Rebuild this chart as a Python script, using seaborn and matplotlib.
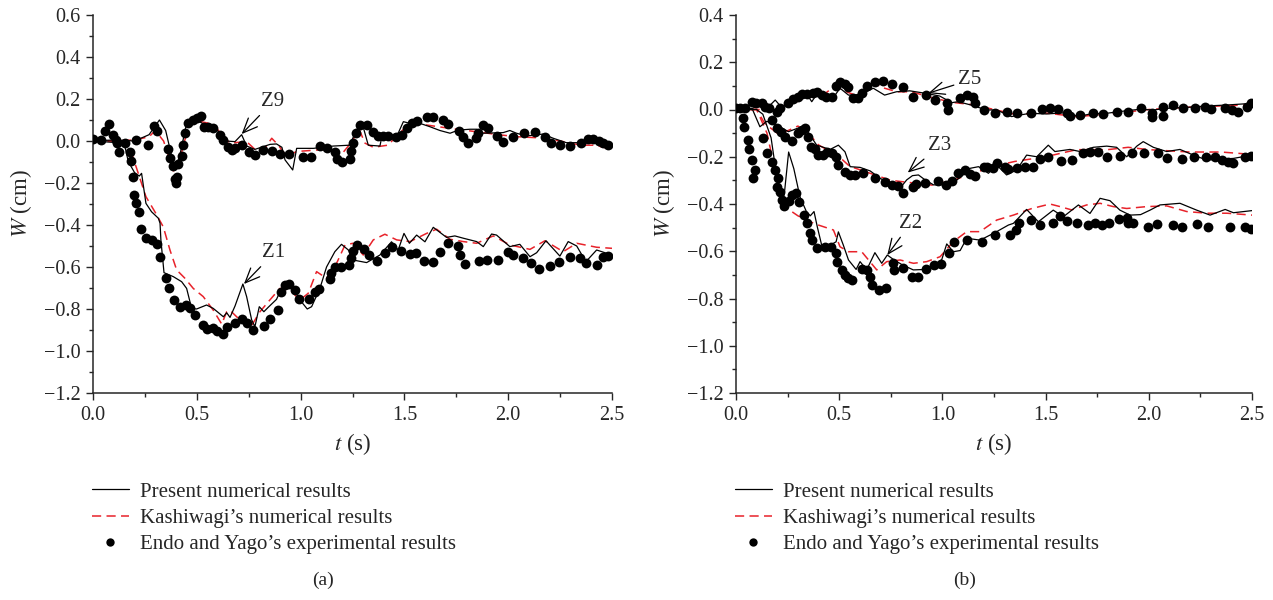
import pandas as pd
import matplotlib
matplotlib.use('Agg')
import matplotlib.pyplot as plt
from matplotlib.lines import Line2D
from matplotlib.ticker import MultipleLocator
import seaborn as sns

# ---- data, (t [s], W [cm]) ----
# panel (a)
z9_exp = [(0.0, 0.008), (0.04, 0.005), (0.058, 0.05), (0.079, 0.08), (0.098, 0.03), (0.11, 0.005),
          (0.117, -0.01), (0.127, -0.05), (0.154, -0.01), (0.207, 0.005), (0.266, -0.02), (0.295, 0.07),
          (0.307, 0.05), (0.363, -0.04), (0.37, -0.08), (0.387, -0.12), (0.395, -0.18), (0.40, -0.20),
          (0.406, -0.17), (0.41, -0.11), (0.427, -0.07), (0.432, -0.02), (0.443, 0.04), (0.459, 0.087),
          (0.483, 0.10), (0.50, 0.11), (0.518, 0.12), (0.534, 0.065), (0.555, 0.065), (0.579, 0.06),
          (0.611, 0.03), (0.628, 0.005), (0.652, -0.03), (0.668, -0.045), (0.684, -0.035), (0.716, -0.02),
          (0.753, -0.05), (0.78, -0.067), (0.82, -0.043), (0.86, -0.046), (0.90, -0.06), (0.945, -0.062),
          (1.01, -0.078), (1.048, -0.075), (1.093, -0.024), (1.125, -0.035), (1.166, -0.05), (1.174, -0.087),
          (1.20, -0.10), (1.238, -0.087), (1.245, -0.046), (1.254, -0.01), (1.267, 0.037), (1.286, 0.076),
          (1.318, 0.076), (1.347, 0.044), (1.374, 0.024), (1.398, 0.024), (1.422, 0.024), (1.46, 0.02),
          (1.487, 0.03), (1.514, 0.06), (1.535, 0.084), (1.562, 0.097), (1.607, 0.113), (1.639, 0.113),
          (1.687, 0.10), (1.712, 0.08), (1.764, 0.05), (1.784, 0.017), (1.805, -0.008), (1.845, 0.013),
          (1.856, 0.037), (1.877, 0.076), (1.904, 0.06), (1.944, 0.024), (1.976, -0.003), (2.021, 0.017),
          (2.077, 0.037), (2.127, 0.044), (2.177, 0.02), (2.204, -0.01), (2.249, -0.02), (2.297, -0.024),
          (2.353, -0.011), (2.386, 0.008), (2.41, 0.008), (2.439, 0.002), (2.458, -0.008), (2.482, -0.019)]
z9_present = [(0.0, 0.0), (0.1, 0.005), (0.2, 0.0), (0.27, 0.03), (0.32, 0.10), (0.35, 0.05),
              (0.395, -0.14), (0.42, -0.06), (0.45, 0.08), (0.50, 0.10), (0.55, 0.07), (0.60, 0.05),
              (0.64, 0.0), (0.684, -0.003), (0.716, 0.03), (0.74, -0.024), (0.78, -0.04), (0.81, -0.03),
              (0.853, -0.016), (0.884, -0.014), (0.91, -0.03), (0.925, -0.09), (0.962, -0.138),
              (0.981, -0.035), (1.062, -0.035), (1.158, -0.024), (1.235, -0.02), (1.278, 0.068),
              (1.302, 0.065), (1.326, -0.02), (1.382, -0.024), (1.39, 0.013), (1.47, 0.037), (1.495, 0.092),
              (1.527, 0.084), (1.575, 0.084), (1.623, 0.068), (1.671, 0.05), (1.72, 0.037), (1.76, 0.052),
              (1.816, 0.056), (1.848, 0.056), (1.88, 0.037), (1.976, 0.04), (2.008, 0.05), (2.04, 0.037),
              (2.088, 0.024), (2.168, 0.033), (2.217, 0.013), (2.28, -0.008), (2.36, -0.008),
              (2.425, -0.008), (2.5, -0.02)]
z9_kashiwagi = [(0.0, 0.0), (0.1, 0.0), (0.2, 0.005), (0.27, 0.02), (0.30, 0.05), (0.34, 0.0),
                (0.39, -0.15), (0.42, -0.08), (0.46, 0.07), (0.49, 0.10), (0.53, 0.09), (0.58, 0.08),
                (0.62, 0.03), (0.66, -0.01), (0.74, -0.003), (0.78, -0.04), (0.82, -0.045), (0.861, 0.013),
                (0.893, -0.02), (0.933, -0.075), (0.98, -0.05), (1.05, -0.045), (1.12, -0.04), (1.2, -0.06),
                (1.25, 0.0), (1.28, 0.06), (1.31, -0.01), (1.35, -0.03), (1.42, -0.02), (1.48, 0.04),
                (1.53, 0.09), (1.58, 0.08), (1.65, 0.07), (1.72, 0.06), (1.8, 0.05), (1.88, 0.04),
                (1.95, 0.03), (2.05, 0.02), (2.15, 0.015), (2.25, 0.0), (2.35, -0.02), (2.42, -0.02),
                (2.5, -0.04)]
z1_exp = [(0.178, -0.05), (0.183, -0.095), (0.194, -0.17), (0.197, -0.257), (0.207, -0.297), (0.222, -0.34),
          (0.23, -0.42), (0.255, -0.46), (0.284, -0.471), (0.31, -0.492), (0.323, -0.554), (0.352, -0.651),
          (0.364, -0.702), (0.39, -0.757), (0.419, -0.789), (0.448, -0.781), (0.467, -0.794), (0.491, -0.829),
          (0.528, -0.876), (0.547, -0.897), (0.576, -0.889), (0.596, -0.905), (0.628, -0.921), (0.644, -0.887),
          (0.684, -0.868), (0.716, -0.849), (0.74, -0.865), (0.769, -0.90), (0.823, -0.881), (0.852, -0.849),
          (0.892, -0.805), (0.904, -0.717), (0.925, -0.686), (0.945, -0.681), (0.973, -0.71), (0.994, -0.754),
          (1.042, -0.752), (1.069, -0.717), (1.09, -0.706), (1.141, -0.659), (1.145, -0.627), (1.166, -0.598),
          (1.193, -0.598), (1.235, -0.59), (1.242, -0.556), (1.25, -0.522), (1.27, -0.495), (1.305, -0.514),
          (1.331, -0.543), (1.366, -0.57), (1.406, -0.532), (1.439, -0.506), (1.482, -0.524), (1.527, -0.538),
          (1.556, -0.532), (1.594, -0.57), (1.636, -0.575), (1.671, -0.53), (1.711, -0.488), (1.756, -0.499),
          (1.768, -0.543), (1.792, -0.587), (1.859, -0.57), (1.896, -0.567), (1.952, -0.567), (1.997, -0.527),
          (2.025, -0.543), (2.069, -0.556), (2.108, -0.583), (2.15, -0.61), (2.201, -0.595), (2.246, -0.578),
          (2.297, -0.551), (2.345, -0.556), (2.373, -0.583), (2.43, -0.59), (2.458, -0.554), (2.482, -0.547)]
z1_present = [(0.0, 0.0), (0.15, -0.01), (0.17, -0.098), (0.20, -0.15), (0.223, -0.167), (0.234, -0.154),
              (0.255, -0.297), (0.282, -0.337), (0.315, -0.368), (0.323, -0.392), (0.327, -0.471),
              (0.342, -0.627), (0.387, -0.646), (0.427, -0.67), (0.451, -0.702), (0.475, -0.797),
              (0.499, -0.80), (0.547, -0.781), (0.579, -0.797), (0.628, -0.837), (0.644, -0.818),
              (0.66, -0.84), (0.684, -0.786), (0.722, -0.681), (0.74, -0.741), (0.764, -0.851),
              (0.78, -0.884), (0.801, -0.789), (0.823, -0.813), (0.844, -0.792), (0.884, -0.754),
              (0.908, -0.702), (0.94, -0.675), (0.965, -0.702), (0.997, -0.757), (1.032, -0.80),
              (1.053, -0.789), (1.093, -0.702), (1.125, -0.60), (1.165, -0.527), (1.197, -0.492),
              (1.23, -0.519), (1.254, -0.567), (1.318, -0.579), (1.382, -0.543), (1.438, -0.48),
              (1.47, -0.519), (1.498, -0.44), (1.524, -0.487), (1.559, -0.448), (1.599, -0.48),
              (1.639, -0.411), (1.703, -0.459), (1.743, -0.452), (1.784, -0.463), (1.848, -0.479),
              (1.88, -0.503), (1.92, -0.443), (1.944, -0.448), (2.008, -0.503), (2.056, -0.492),
              (2.105, -0.551), (2.137, -0.532), (2.182, -0.475), (2.249, -0.548), (2.289, -0.479),
              (2.33, -0.50), (2.374, -0.575), (2.426, -0.519), (2.5, -0.543)]
z1_kashiwagi = [(0.0, 0.0), (0.15, 0.0), (0.178, -0.035), (0.21, -0.13), (0.255, -0.265), (0.307, -0.352),
                (0.339, -0.41), (0.371, -0.52), (0.403, -0.614), (0.443, -0.654), (0.483, -0.702),
                (0.531, -0.741), (0.579, -0.805), (0.62, -0.872), (0.644, -0.813), (0.66, -0.806),
                (0.692, -0.837), (0.756, -0.892), (0.804, -0.813), (0.852, -0.757), (0.90, -0.702),
                (0.949, -0.71), (0.997, -0.757), (1.037, -0.725), (1.077, -0.622), (1.125, -0.654),
                (1.173, -0.583), (1.214, -0.495), (1.253, -0.487), (1.302, -0.543), (1.35, -0.471),
                (1.406, -0.444), (1.463, -0.471), (1.527, -0.479), (1.607, -0.44), (1.655, -0.42),
                (1.72, -0.468), (1.784, -0.479), (1.848, -0.487), (1.928, -0.452), (2.008, -0.495),
                (2.105, -0.516), (2.177, -0.475), (2.265, -0.527), (2.33, -0.487), (2.426, -0.506),
                (2.5, -0.511)]

# panel (b)
z5_exp = [(0.0, 0.005), (0.019, 0.005), (0.044, 0.005), (0.076, 0.033), (0.097, 0.026), (0.124, 0.029),
          (0.141, 0.012), (0.197, -0.009), (0.213, 0.005), (0.254, 0.029), (0.275, 0.043), (0.302, 0.054),
          (0.318, 0.064), (0.342, 0.064), (0.372, 0.071), (0.394, 0.075), (0.415, 0.061), (0.436, 0.051),
          (0.464, 0.051), (0.485, 0.099), (0.504, 0.118), (0.528, 0.108), (0.545, 0.094), (0.569, 0.047),
          (0.593, 0.047), (0.609, 0.068), (0.633, 0.099), (0.673, 0.118), (0.714, 0.122), (0.754, 0.108),
          (0.807, 0.097), (0.859, 0.052), (0.92, 0.061), (0.962, 0.042), (1.021, 0.026), (1.029, 0.0),
          (1.085, 0.047), (1.12, 0.061), (1.148, 0.052), (1.16, 0.026), (1.20, -0.002), (1.254, -0.013),
          (1.314, -0.009), (1.36, -0.013), (1.428, -0.013), (1.481, 0.001), (1.521, 0.005), (1.562, 0.001),
          (1.602, -0.016), (1.618, -0.028), (1.667, -0.023), (1.728, -0.016), (1.777, -0.02), (1.844, -0.009),
          (1.90, -0.009), (1.96, 0.005), (2.014, -0.013), (2.017, -0.03), (2.067, -0.028), (2.07, 0.009),
          (2.116, 0.019), (2.164, 0.005), (2.224, 0.005), (2.272, 0.012), (2.30, 0.001), (2.369, 0.005),
          (2.401, -0.002), (2.434, -0.009), (2.474, 0.009), (2.494, 0.026)]
z5_present = [(0.0, 0.0), (0.08, 0.005), (0.12, 0.02), (0.15, 0.005), (0.19, 0.04), (0.22, 0.01),
              (0.26, 0.03), (0.30, 0.06), (0.346, 0.061), (0.367, 0.033), (0.394, 0.068), (0.44, 0.043),
              (0.472, 0.051), (0.504, 0.09), (0.545, 0.061), (0.601, 0.061), (0.665, 0.09), (0.72, 0.061),
              (0.777, 0.075), (0.842, 0.079), (0.922, 0.068), (0.987, 0.057), (1.045, 0.029), (1.077, 0.033),
              (1.134, 0.02), (1.214, -0.002), (1.263, -0.002), (1.335, -0.03), (1.424, -0.016),
              (1.505, -0.019), (1.602, -0.013), (1.659, -0.03), (1.715, -0.019), (1.796, -0.016),
              (1.893, -0.005), (1.958, 0.001), (2.022, -0.002), (2.087, 0.005), (2.184, 0.009),
              (2.281, 0.015), (2.378, 0.019), (2.5, 0.026)]
z5_kashiwagi = [(0.0, 0.0), (0.15, 0.0), (0.25, 0.02), (0.35, 0.05), (0.42, 0.06), (0.48, 0.10),
                (0.52, 0.08), (0.58, 0.06), (0.62, 0.08), (0.67, 0.11), (0.72, 0.09), (0.78, 0.075),
                (0.85, 0.075), (0.95, 0.05), (1.05, 0.03), (1.15, 0.02), (1.25, 0.0), (1.35, -0.02),
                (1.5, -0.015), (1.65, -0.03), (1.8, -0.02), (1.9, -0.01), (2.0, 0.0), (2.2, 0.01),
                (2.35, 0.015), (2.5, 0.02)]
z3_exp = [(0.162, 0.005), (0.173, -0.044), (0.197, -0.08), (0.216, -0.094), (0.237, -0.115), (0.27, -0.132),
          (0.302, -0.098), (0.318, -0.087), (0.334, -0.08), (0.35, -0.118), (0.362, -0.16), (0.383, -0.169),
          (0.399, -0.193), (0.42, -0.193), (0.44, -0.179), (0.464, -0.183), (0.485, -0.20), (0.496, -0.235),
          (0.528, -0.263), (0.553, -0.277), (0.577, -0.277), (0.617, -0.27), (0.673, -0.291), (0.722, -0.305),
          (0.754, -0.319), (0.786, -0.323), (0.811, -0.352), (0.859, -0.33), (0.872, -0.316), (0.916, -0.311),
          (0.981, -0.302), (1.018, -0.321), (1.045, -0.301), (1.077, -0.268), (1.109, -0.257), (1.134, -0.273),
          (1.158, -0.281), (1.20, -0.245), (1.214, -0.242), (1.246, -0.249), (1.263, -0.228), (1.303, -0.242),
          (1.319, -0.253), (1.363, -0.249), (1.40, -0.242), (1.437, -0.242), (1.473, -0.211), (1.513, -0.20),
          (1.573, -0.217), (1.626, -0.214), (1.683, -0.186), (1.715, -0.178), (1.755, -0.178), (1.796, -0.202),
          (1.86, -0.197), (1.917, -0.186), (1.977, -0.183), (2.046, -0.186), (2.087, -0.207), (2.16, -0.21),
          (2.219, -0.20), (2.277, -0.20), (2.321, -0.202), (2.353, -0.214), (2.386, -0.221), (2.41, -0.228),
          (2.466, -0.202), (2.494, -0.197)]
z3_present = [(0.0, 0.0), (0.08, 0.0), (0.116, -0.073), (0.149, -0.05), (0.18, -0.06), (0.213, -0.073),
              (0.254, -0.094), (0.318, -0.073), (0.342, -0.087), (0.391, -0.151), (0.456, -0.169),
              (0.496, -0.151), (0.528, -0.179), (0.553, -0.242), (0.601, -0.245), (0.65, -0.26),
              (0.698, -0.291), (0.763, -0.323), (0.795, -0.333), (0.827, -0.298), (0.855, -0.28),
              (0.884, -0.277), (0.916, -0.298), (0.957, -0.319), (1.005, -0.319), (1.054, -0.309),
              (1.101, -0.277), (1.134, -0.249), (1.175, -0.242), (1.223, -0.27), (1.263, -0.235),
              (1.311, -0.277), (1.36, -0.256), (1.408, -0.193), (1.457, -0.20), (1.513, -0.151),
              (1.545, -0.178), (1.618, -0.169), (1.667, -0.178), (1.731, -0.16), (1.796, -0.155),
              (1.844, -0.16), (1.893, -0.20), (1.942, -0.155), (1.973, -0.136), (2.022, -0.16),
              (2.087, -0.178), (2.151, -0.169), (2.216, -0.193), (2.281, -0.214), (2.41, -0.207),
              (2.5, -0.193)]
z3_kashiwagi = [(0.0, 0.0), (0.1, 0.0), (0.14, -0.06), (0.2, -0.1), (0.25, -0.09), (0.3, -0.07),
                (0.35, -0.1), (0.4, -0.15), (0.5, -0.2), (0.55, -0.24), (0.65, -0.27), (0.75, -0.3),
                (0.85, -0.31), (0.95, -0.32), (1.05, -0.30), (1.15, -0.27), (1.25, -0.24), (1.35, -0.22),
                (1.5, -0.2), (1.65, -0.17), (1.8, -0.17), (1.9, -0.16), (2.0, -0.17), (2.2, -0.18),
                (2.35, -0.18), (2.5, -0.19)]
z2_exp = [(0.036, -0.037), (0.04, -0.073), (0.06, -0.129), (0.065, -0.169), (0.076, -0.214), (0.092, -0.256),
          (0.081, -0.29), (0.132, -0.122), (0.149, -0.186), (0.173, -0.221), (0.189, -0.256), (0.205, -0.291),
          (0.197, -0.327), (0.213, -0.348), (0.221, -0.383), (0.233, -0.408), (0.258, -0.386), (0.27, -0.362),
          (0.289, -0.355), (0.307, -0.39), (0.33, -0.447), (0.346, -0.482), (0.359, -0.521), (0.367, -0.552),
          (0.391, -0.585), (0.431, -0.58), (0.459, -0.58), (0.485, -0.606), (0.491, -0.644), (0.512, -0.68),
          (0.528, -0.701), (0.545, -0.715), (0.56, -0.722), (0.609, -0.677), (0.633, -0.679), (0.647, -0.708),
          (0.66, -0.743), (0.695, -0.764), (0.727, -0.757), (0.759, -0.651), (0.767, -0.68), (0.81, -0.672),
          (0.851, -0.708), (0.883, -0.708), (0.92, -0.677), (0.958, -0.659), (0.995, -0.655), (1.034, -0.606),
          (1.057, -0.56), (1.121, -0.553), (1.191, -0.56), (1.255, -0.531), (1.327, -0.531), (1.356, -0.51),
          (1.373, -0.479), (1.428, -0.468), (1.473, -0.489), (1.534, -0.482), (1.57, -0.451), (1.605, -0.472),
          (1.654, -0.479), (1.707, -0.489), (1.739, -0.482), (1.772, -0.49), (1.809, -0.479), (1.857, -0.465),
          (1.893, -0.46), (1.90, -0.479), (1.925, -0.482), (1.998, -0.496), (2.038, -0.486), (2.119, -0.491),
          (2.159, -0.499), (2.232, -0.486), (2.289, -0.496), (2.394, -0.496), (2.466, -0.496), (2.494, -0.507)]
z2_present = [(0.0, 0.0), (0.10, 0.0), (0.13, -0.02), (0.17, -0.12), (0.20, -0.30), (0.22, -0.42),
              (0.235, -0.35), (0.255, -0.18), (0.28, -0.25), (0.31, -0.37), (0.34, -0.43), (0.36, -0.45),
              (0.378, -0.432), (0.394, -0.497), (0.415, -0.574), (0.456, -0.574), (0.485, -0.56),
              (0.496, -0.518), (0.52, -0.574), (0.545, -0.637), (0.582, -0.677), (0.601, -0.644),
              (0.633, -0.679), (0.673, -0.606), (0.706, -0.651), (0.733, -0.616), (0.763, -0.635),
              (0.803, -0.656), (0.859, -0.679), (0.916, -0.677), (0.957, -0.663), (0.997, -0.635),
              (1.021, -0.569), (1.053, -0.602), (1.086, -0.597), (1.118, -0.545), (1.183, -0.553),
              (1.263, -0.517), (1.32, -0.489), (1.344, -0.482), (1.408, -0.423), (1.465, -0.475),
              (1.537, -0.426), (1.586, -0.454), (1.659, -0.404), (1.715, -0.44), (1.764, -0.376),
              (1.812, -0.386), (1.86, -0.426), (1.909, -0.447), (1.96, -0.445), (2.006, -0.426),
              (2.054, -0.404), (2.151, -0.397), (2.232, -0.426), (2.297, -0.447), (2.37, -0.423),
              (2.41, -0.437), (2.5, -0.428)]
z2_kashiwagi = [(0.0, 0.0), (0.1, 0.0), (0.15, -0.1), (0.2, -0.3), (0.25, -0.42), (0.3, -0.45),
                (0.359, -0.475), (0.399, -0.489), (0.472, -0.51), (0.504, -0.581), (0.545, -0.602),
                (0.609, -0.602), (0.682, -0.679), (0.73, -0.644), (0.795, -0.637), (0.86, -0.651),
                (0.924, -0.644), (0.989, -0.623), (1.053, -0.559), (1.118, -0.517), (1.182, -0.517),
                (1.263, -0.468), (1.344, -0.447), (1.43, -0.42), (1.521, -0.40), (1.57, -0.411),
                (1.626, -0.425), (1.699, -0.404), (1.764, -0.397), (1.828, -0.411), (1.893, -0.419),
                (1.99, -0.411), (2.087, -0.408), (2.184, -0.432), (2.281, -0.439), (2.378, -0.439),
                (2.5, -0.447)]

legend_labels = ['Present numerical results', "Kashiwagi\u2019s numerical results",
                 "Endo and Yago\u2019s experimental results"]

# label text, text position, arrow tip
labels_a = [('Z9', (0.866, 0.187), (0.716, 0.033)), ('Z1', (0.872, -0.533), (0.727, -0.681))]
labels_b = [('Z5', (1.134, 0.125), (0.932, 0.069)), ('Z3', (0.988, -0.154), (0.832, -0.267)),
            ('Z2', (0.846, -0.482), (0.733, -0.616))]

RED = '#e8222a'

sns.set_style('ticks')
plt.rcParams['font.family'] = ['Liberation Serif', 'DejaVu Serif']
plt.rcParams['mathtext.fontset'] = 'stix'
plt.rcParams['axes.unicode_minus'] = True

fig = plt.figure(figsize=(12.73, 6.0), dpi=100)
ax_a = fig.add_axes([93 / 1273, 1 - 393 / 600, 519 / 1273, 378 / 600])
ax_b = fig.add_axes([736 / 1273, 1 - 393 / 600, 516 / 1273, 378 / 600])


def to_df(pairs):
    return pd.DataFrame(pairs, columns=['t', 'W'])


def draw_panel(ax, curves, labels, ylim):
    for exp, present, kashi in curves:
        sns.lineplot(data=to_df(kashi), x='t', y='W', ax=ax, color=RED, lw=1.1,
                     dashes=(6, 3.5), sort=False, estimator=None, zorder=2)
        sns.lineplot(data=to_df(present), x='t', y='W', ax=ax, color='black', lw=0.9,
                     sort=False, estimator=None, zorder=3)
        sns.scatterplot(data=to_df(exp), x='t', y='W', ax=ax, color='black', s=50,
                        linewidth=0, zorder=4)
    for txt, xy_text, xy_tip in labels:
        ax.annotate(txt, xy=xy_tip, xytext=xy_text, ha='center', va='center', fontsize=15,
                    arrowprops=dict(arrowstyle='->,head_length=0.7,head_width=0.3', lw=0.9,
                                    color='black', shrinkA=1, shrinkB=0))
    ax.set_xlim(0, 2.5)
    ax.set_ylim(*ylim)
    ax.xaxis.set_major_locator(MultipleLocator(0.5))
    ax.xaxis.set_minor_locator(MultipleLocator(0.25))
    ax.yaxis.set_major_locator(MultipleLocator(0.2))
    ax.yaxis.set_minor_locator(MultipleLocator(0.1))
    ax.xaxis.set_major_formatter(plt.FormatStrFormatter('%.1f'))
    ax.yaxis.set_major_formatter(plt.FuncFormatter(lambda v, p: ('%.1f' % v).replace('-', '\u2212')
                                                   if abs(v) > 1e-9 else '0.0'))
    ax.tick_params(which='major', direction='out', length=5, width=1, labelsize=14.5, pad=4)
    ax.tick_params(which='minor', direction='out', length=3, width=1)
    for sp in ['left', 'bottom']:
        ax.spines[sp].set_linewidth(1.1)
    sns.despine(ax=ax)
    ax.set_xlabel('$t$ (s)', fontsize=16.5, labelpad=5)
    ax.set_ylabel('$W$ (cm)', fontsize=16.5, labelpad=7)


draw_panel(ax_a, [(z9_exp, z9_present, z9_kashiwagi), (z1_exp, z1_present, z1_kashiwagi)],
           labels_a, (-1.2, 0.6))
draw_panel(ax_b, [(z5_exp, z5_present, z5_kashiwagi), (z3_exp, z3_present, z3_kashiwagi),
                  (z2_exp, z2_present, z2_kashiwagi)], labels_b, (-1.2, 0.4))

handles = [Line2D([], [], color='black', lw=0.9),
           Line2D([], [], color=RED, lw=1.1, dashes=(6, 3.5)),
           Line2D([], [], color='black', marker='o', ms=6, lw=0, markeredgewidth=0)]

for ax, x0, cap, cx in [(ax_a, 92 / 1273, '(a)', 323 / 1273), (ax_b, 735 / 1273, '(b)', 965 / 1273)]:
    ax.legend(handles, legend_labels, loc='upper left', bbox_to_anchor=(x0, 1 - 482 / 600),
              bbox_transform=fig.transFigure, frameon=False, fontsize=15.0, borderpad=0,
              borderaxespad=0, handlelength=1.76, handletextpad=0.54, labelspacing=0.33)
    fig.text(cx, 1 - 580 / 600, cap, ha='center', va='center', fontsize=14)

fig.savefig('out.png', dpi=100)
